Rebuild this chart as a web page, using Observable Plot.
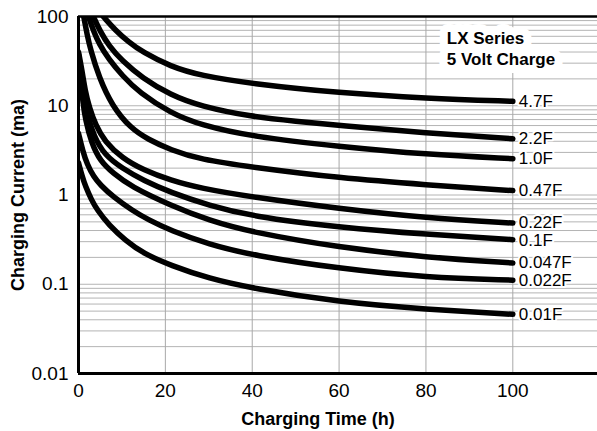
<!DOCTYPE html>
<html><head><meta charset="utf-8">
<script src="https://cdn.jsdelivr.net/npm/d3@7"></script>
<script src="https://cdn.jsdelivr.net/npm/@observablehq/plot@0.6"></script>
<style>body{margin:0;background:#fff} svg{display:block}</style>
</head><body><div id="chart"></div>
<script>
// Capacitor curves (label, charging time h, charging current mA)
const capLabels = ["4.7F","2.2F","1.0F","0.47F","0.22F","0.1F","0.047F","0.022F","0.01F"];

const t_4_7F  = [5.7, 8.5, 11.5, 14.7, 21.2, 28, 40, 60, 80, 100];
const i_4_7F  = [100, 70, 52, 40, 27.5, 21.8, 17.6, 13.9, 12.1, 11.2];

const t_2_2F  = [3.4, 5, 7, 10, 14.7, 21.2, 28, 40, 50, 60, 80, 100];
const i_2_2F  = [100, 68, 47, 32, 20.5, 13.2, 9.9, 7.5, 6.7, 6.0, 4.93, 4.27];

const t_1_0F  = [2.3, 3.5, 4.7, 7, 10, 14, 21.2, 28, 40, 60, 80, 100];
const i_1_0F  = [100, 68, 50, 33, 22, 14, 8.3, 6.1, 4.5, 3.5, 2.85, 2.55];

const t_0_47F = [1.2, 2, 2.8, 4.7, 7.7, 12, 16, 21.2, 28, 40, 60, 80, 100];
const i_0_47F = [100, 62, 42, 21, 10, 5.6, 4.2, 3.2, 2.5, 2.05, 1.55, 1.30, 1.12];

const t_0_22F = [0, 0.8, 1.5, 2.5, 4, 6, 10, 15, 21.2, 28, 40, 60, 80, 100];
const i_0_22F = [40, 25, 15, 9.5, 6, 4, 2.6, 1.9, 1.46, 1.19, 0.946, 0.703, 0.552, 0.485];

const t_0_1F  = [0, 0.6, 1.2, 2, 3.5, 6, 10, 15, 21.2, 30, 40, 60, 80, 100];
const i_0_1F  = [38, 22, 13, 8, 4.6, 2.8, 2.0, 1.45, 1.07, 0.765, 0.575, 0.434, 0.362, 0.316];

const t_0_047F = [0, 0.5, 1, 1.6, 3, 5, 8, 12, 21.2, 30, 40, 60, 80, 100];
const i_0_047F = [35, 20, 11, 7, 3.8, 2.4, 1.75, 1.25, 0.765, 0.52, 0.381, 0.259, 0.200, 0.173];

const t_0_022F = [0, 1, 2, 3.5, 5, 8, 12.4, 16, 21.2, 30, 40, 60, 80, 100];
const i_0_022F = [4.9, 3.1, 2.2, 1.6, 1.3, 0.95, 0.67, 0.53, 0.40, 0.28, 0.211, 0.150, 0.119, 0.111];

const t_0_01F = [0, 0.8, 1.6, 3, 4.3, 7, 10.8, 15, 21.2, 30, 40, 60, 80, 100];
const i_0_01F = [2.3, 1.65, 1.25, 0.88, 0.68, 0.46, 0.31, 0.22, 0.163, 0.116, 0.090, 0.063, 0.0524, 0.046];

const xTicks = [0, 20, 40, 60, 80, 100];
const yTicks = [0.01, 0.1, 1, 10, 100];
const titleLines = "LX Series\n5 Volt Charge";
const xTitle = "Charging Time (h)";
const yTitle = "Charging Current (ma)";

const times = [t_4_7F, t_2_2F, t_1_0F, t_0_47F, t_0_22F, t_0_1F, t_0_047F, t_0_022F, t_0_01F];
const currents = [i_4_7F, i_2_2F, i_1_0F, i_0_47F, i_0_22F, i_0_1F, i_0_047F, i_0_022F, i_0_01F];

const data = capLabels.flatMap((name, k) => times[k].map((t, j) => ({name, t, i: currents[k][j]})));
const ends = capLabels.map((name, k) => ({name, t: times[k][times[k].length - 1], i: currents[k][currents[k].length - 1]}));
const nudgeUp = ["0.22F"], nudgeDown = ["0.1F"];

const yGrid = d3.scaleLog().domain([0.01, 100]).ticks();
const font = "'Liberation Sans', Arial, Helvetica, sans-serif";
const labelStyle = {x: "t", y: "i", text: "name", dx: 6, textAnchor: "start", fontSize: 17, fill: "black", stroke: "white", strokeWidth: 4};

const chart = Plot.plot({
  width: 597,
  height: 431,
  marginLeft: 78,
  marginRight: 0,
  marginTop: 16,
  marginBottom: 58,
  style: {fontFamily: font, background: "white", color: "black"},
  x: {domain: [0, 119.5], label: null},
  y: {type: "log", domain: [0.01, 100], label: null},
  marks: [
    Plot.gridY(yGrid, {stroke: "#b4b4b4", strokeOpacity: 1, strokeWidth: 1}),
    Plot.gridX([20, 40, 60, 80, 100], {stroke: "#a8a8a8", strokeOpacity: 1, strokeWidth: 1}),
    Plot.text([titleLines], {x: 84.8, y: 73, text: d => d, textAnchor: "start", lineAnchor: "top", fontWeight: "bold", fontSize: 17, lineHeight: 1.25, fill: "black", stroke: "white", strokeWidth: 16}),
    Plot.line(data, {x: "t", y: "i", z: "name", stroke: "black", strokeWidth: 5.5, curve: "basis", clip: true}),
    Plot.text(ends.filter(d => !nudgeUp.includes(d.name) && !nudgeDown.includes(d.name)), labelStyle),
    Plot.text(ends.filter(d => nudgeUp.includes(d.name)), {...labelStyle, dy: -1}),
    Plot.text(ends.filter(d => nudgeDown.includes(d.name)), {...labelStyle, dy: 1}),
    Plot.ruleX([0], {stroke: "black", strokeWidth: 3}),
    Plot.ruleY([0.01], {stroke: "black", strokeWidth: 3}),
    Plot.ruleY([100], {stroke: "black", strokeWidth: 2.5}),
    Plot.axisY(yTicks, {tickSize: 0, tickPadding: 10, fontSize: 19, tickFormat: d => String(d), label: null}),
    Plot.axisX(xTicks, {tickSize: 0, tickPadding: 10, fontSize: 19, label: null}),
    Plot.text([xTitle], {frameAnchor: "bottom", dx: -20, dy: 51, text: d => d, fontWeight: "bold", fontSize: 18, lineAnchor: "bottom"}),
    Plot.text([yTitle], {frameAnchor: "left", dx: -60, rotate: -90, text: d => d, fontWeight: "bold", fontSize: 18, textAnchor: "middle", lineAnchor: "middle"})
  ]
});
document.getElementById("chart").appendChild(chart);
</script>
</body></html>
